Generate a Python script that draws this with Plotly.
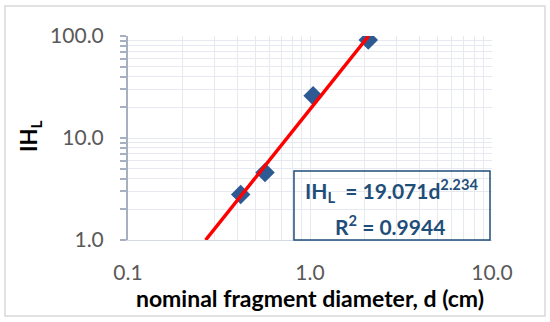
import plotly.graph_objects as go

# measured points (diameter in cm, IH_L)
diam = [0.416, 0.566, 1.04, 2.09]
ihl = [2.8, 4.6, 26.0, 91.5]

# power trendline ends: IH_L = 19.071 d^2.234
trend_d = [0.267, 2.1]
trend_ihl = [1.0, 100.0]

x_ticks = [0.1, 1, 10]
x_labels = ["0.1", "1.0", "10.0"]
y_ticks = [1, 10, 100]
y_labels = ["1.0", "10.0", "100.0"]
minor_x = [0.2, 0.3, 0.4, 0.5, 0.6, 0.7, 0.8, 0.9, 2, 3, 4, 5, 6, 7, 8, 9]
minor_y = [2, 3, 4, 5, 6, 7, 8, 9, 20, 30, 40, 50, 60, 70, 80, 90]

FONT = "Lato"
grid = "#E6EAF0"
navy = "#1F4E79"

fig = go.Figure()
fig.add_trace(go.Scatter(
    x=diam, y=ihl, mode="markers",
    marker=dict(symbol="diamond", size=15, color="#2E5A94",
                line=dict(width=0)),
    showlegend=False,
))
fig.add_trace(go.Scatter(
    x=trend_d, y=trend_ihl, mode="lines",
    line=dict(color="#FF0000", width=3.5),
    showlegend=False,
))

fig.update_xaxes(
    type="log", range=[-1, 1],
    tickvals=x_ticks, ticktext=x_labels,
    tickfont=dict(size=21, color="#595959", family=FONT),
    ticks="", ticklabelstandoff=14,
    showgrid=True, gridcolor=grid, gridwidth=1,
    minor=dict(tickvals=minor_x, showgrid=True, gridcolor=grid, gridwidth=1),
    showline=True, linecolor="#D5DAE2", linewidth=1,
    zeroline=False,
    title=dict(text="<b>nominal fragment diameter, d (cm)</b>",
               font=dict(size=23, color="#000000", family=FONT), standoff=0),
)
fig.update_yaxes(
    type="log", range=[0, 2],
    tickvals=y_ticks, ticktext=y_labels,
    tickfont=dict(size=21, color="#595959", family=FONT),
    ticks="outside", ticklen=6, tickcolor="#A6B0C0", tickwidth=1.5,
    ticklabelstandoff=12,
    showgrid=True, gridcolor=grid, gridwidth=1,
    minor=dict(tickvals=minor_y, showgrid=True, gridcolor=grid, gridwidth=1,
               ticks="outside", ticklen=6, tickcolor="#A6B0C0", tickwidth=1.5),
    showline=True, linecolor="#A6B0C0", linewidth=2,
    zeroline=False,
)

# y title
fig.add_annotation(
    xref="paper", yref="paper", x=-0.269, y=0.505,
    xanchor="center", yanchor="middle",
    text="<b>IH<sub>L</sub></b>", textangle=-90, showarrow=False,
    font=dict(size=22, color="#000000", family=FONT),
)

# equation box
fig.add_shape(type="rect", xref="paper", yref="paper",
              x0=0.456, x1=0.9945, y0=0.0, y1=0.338,
              line=dict(color=navy, width=1.5), layer="above")
fig.add_annotation(
    xref="paper", yref="paper", x=0.725, y=0.245,
    xanchor="center", yanchor="middle",
    text="<b>IH<sub>L</sub>  = 19.071d<sup>2.234</sup></b>", showarrow=False,
    font=dict(size=21, color=navy, family=FONT),
)
fig.add_annotation(
    xref="paper", yref="paper", x=0.72, y=0.075,
    xanchor="center", yanchor="middle",
    text="<b>R<sup>2</sup> = 0.9944</b>", showarrow=False,
    font=dict(size=21, color=navy, family=FONT),
)

# outer chart border
fig.add_shape(type="rect", xref="paper", yref="paper",
              x0=-0.338, x1=1.1456, y0=-0.3725, y1=1.147,
              line=dict(color="#D9D9D9", width=1.5), layer="below")

fig.update_layout(
    width=550, height=322,
    margin=dict(l=128, r=58, t=36, b=82, autoexpand=False),
    plot_bgcolor="white", paper_bgcolor="white",
    font=dict(family=FONT),
)

fig.write_html("out.html", config={"displayModeBar": False},
               post_script="document.body.style.margin='0px';")
